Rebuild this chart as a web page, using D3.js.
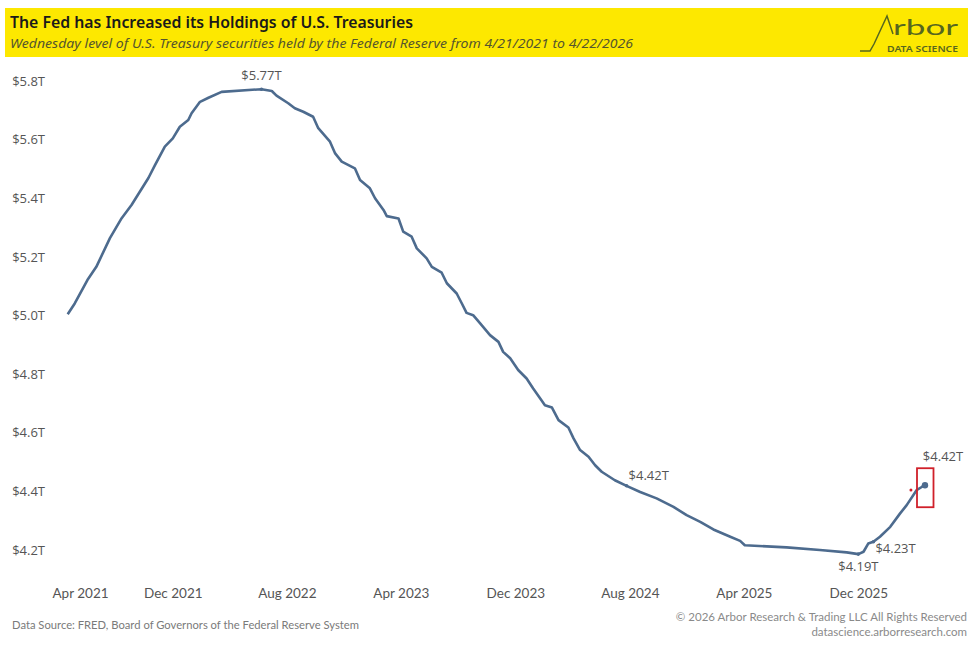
<!DOCTYPE html>
<html>
<head>
<meta charset="utf-8">
<script src="https://cdn.jsdelivr.net/npm/d3@7"></script>
<style>
  body { margin: 0; background: #fff; }
  svg { display: block; }
</style>
</head>
<body>
<svg width="974" height="649"></svg>
<script>
// даты (среда) и объём казначейских бумаг на балансе ФРС, трлн $
const dates = [
  "2021-04-21","2021-05-06","2021-06-02","2021-06-21","2021-07-20","2021-08-14",
  "2021-09-04","2021-10-10","2021-10-24","2021-11-14","2021-12-01","2021-12-16",
  "2022-01-03","2022-01-10","2022-01-28","2022-02-15","2022-03-15","2022-06-08",
  "2022-06-30","2022-07-10","2022-08-04","2022-08-18","2022-09-05","2022-09-26",
  "2022-10-07","2022-11-01","2022-11-12","2022-11-26","2022-12-24","2023-01-04",
  "2023-01-25","2023-02-05","2023-02-23","2023-03-02","2023-03-27","2023-04-06",
  "2023-04-24","2023-05-05","2023-05-26","2023-06-06","2023-06-27","2023-07-08",
  "2023-07-29","2023-08-09","2023-08-19","2023-09-02","2023-09-17","2023-10-08",
  "2023-10-26","2023-11-05","2023-11-20","2023-12-07","2023-12-25","2024-01-08",
  "2024-01-23","2024-02-02","2024-02-17","2024-03-02","2024-03-23","2024-04-03",
  "2024-04-17","2024-05-05","2024-05-19","2024-06-02","2024-06-30","2024-07-25",
  "2024-08-23","2024-09-27","2024-11-02","2024-11-30","2024-12-29","2025-01-26",
  "2025-03-03","2025-03-24","2025-04-03","2025-07-01","2025-09-10","2025-11-06",
  "2025-12-01","2025-12-12","2025-12-22","2026-01-02","2026-01-16","2026-02-07",
  "2026-02-28","2026-03-14","2026-04-04","2026-04-15","2026-04-22"
];
const holdings = [
  5.004, 5.041, 5.121, 5.166, 5.264, 5.332,
  5.377, 5.469, 5.513, 5.576, 5.604, 5.644,
  5.667, 5.690, 5.729, 5.743, 5.763, 5.772,
  5.766, 5.750, 5.724, 5.707, 5.695, 5.678,
  5.639, 5.593, 5.553, 5.525, 5.502, 5.462,
  5.434, 5.400, 5.360, 5.339, 5.331, 5.286,
  5.269, 5.229, 5.195, 5.166, 5.146, 5.110,
  5.075, 5.041, 5.009, 5.001, 4.973, 4.933,
  4.910, 4.876, 4.854, 4.814, 4.785, 4.751,
  4.717, 4.694, 4.686, 4.643, 4.618, 4.581,
  4.541, 4.518, 4.489, 4.467, 4.438, 4.419,
  4.398, 4.376, 4.347, 4.319, 4.296, 4.270,
  4.245, 4.231, 4.216, 4.209, 4.200, 4.192,
  4.186, 4.194, 4.222, 4.228, 4.245, 4.279,
  4.325, 4.353, 4.404, 4.415, 4.421
];

// подписи осей
const tickDates = ["2021-04-01","2021-12-01","2022-08-01","2023-04-01",
                   "2023-12-01","2024-08-01","2025-04-01","2025-12-01"];
const tickValuesY = [4.2, 4.4, 4.6, 4.8, 5.0, 5.2, 5.4, 5.6, 5.8];

// подписанные точки: дата, текст
const labelDates = ["2022-06-08", "2024-07-25", "2025-12-01", "2026-01-02", "2026-04-22"];
const labelTexts = ["$5.77T", "$4.42T", "$4.19T", "$4.23T", "$4.42T"];

const parseDate = d3.timeParse("%Y-%m-%d");

const svg = d3.select("svg");

const attr_area = {
    width: 974,
    height: 649,
    left: 67.7,
    right: 925,
    top: 81,
    bottom: 550
};

const LINE_COLOR = "#4d6b8e";
const TEXT_COLOR = "#555";
const LOGO_COLOR = "#56661f";

const data = dates.map((d, i) => ({date: parseDate(d), value: holdings[i]}));

const scX = d3.scaleTime()
    .domain([parseDate(dates[0]), parseDate(dates[dates.length - 1])])
    .range([attr_area.left, attr_area.right]);

const scY = d3.scaleLinear()
    .domain([4.2, 5.8])
    .range([attr_area.bottom, attr_area.top]);

// заголовок на жёлтой плашке
function drawHeader() {
    svg.append("rect")
        .attr("x", 5).attr("y", 8)
        .attr("width", 963).attr("height", 49)
        .attr("fill", "#fde800");

    svg.append("text")
        .attr("x", 10).attr("y", 28)
        .attr("textLength", 403).attr("lengthAdjust", "spacingAndGlyphs")
        .style("font-family", "'Noto Sans', sans-serif")
        .style("font-weight", 600)
        .style("font-size", "16px")
        .style("fill", "#1a1a1a")
        .text("The Fed has Increased its Holdings of U.S. Treasuries");

    svg.append("text")
        .attr("x", 10).attr("y", 48)
        .attr("textLength", 623).attr("lengthAdjust", "spacingAndGlyphs")
        .style("font-family", "'Noto Sans', sans-serif")
        .style("font-style", "italic")
        .style("font-size", "13px")
        .style("fill", "#55552e")
        .text("Wednesday level of U.S. Treasury securities held by the Federal Reserve from 4/21/2021 to 4/22/2026");

    // логотип
    const logo = svg.append("g").attr("class", "logo");
    logo.append("path")
        .attr("d", "M860,51 L870,51 L874,44 L887,16 L893,34")
        .attr("fill", "none")
        .attr("stroke", LOGO_COLOR)
        .attr("stroke-width", 1.5);
    logo.append("text")
        .attr("x", 893).attr("y", 35)
        .attr("textLength", 65).attr("lengthAdjust", "spacingAndGlyphs")
        .style("font-family", "Lato, sans-serif")
        .style("font-weight", 400)
        .style("font-size", "22px")
        .style("fill", LOGO_COLOR)
        .text("rbor");
    logo.append("text")
        .attr("x", 887).attr("y", 52)
        .attr("textLength", 71).attr("lengthAdjust", "spacingAndGlyphs")
        .style("font-family", "'Noto Sans', sans-serif")
        .style("font-weight", 600)
        .style("font-size", "9.5px")
        .style("fill", LOGO_COLOR)
        .text("DATA SCIENCE");
}

function drawAxes() {
    const axisX = d3.axisBottom(scX)
        .tickValues(tickDates.map(parseDate))
        .tickFormat(d3.timeFormat("%b %Y"))
        .tickSize(0)
        .tickPadding(6);

    const gX = svg.append("g")
        .attr("transform", `translate(0, 582)`)
        .call(axisX);
    gX.select(".domain").remove();
    gX.selectAll("text")
        .style("font-family", "Lato, sans-serif")
        .style("font-size", "13.5px")
        .style("fill", TEXT_COLOR);

    // первая подпись не выходит за левый край области
    gX.selectAll(".tick text").each(function(d) {
        const w = this.getComputedTextLength();
        const tx = scX(d);
        if (tx - w / 2 < 52) {
            d3.select(this).attr("x", 52 + w / 2 - tx);
        }
    });

    const axisY = d3.axisLeft(scY)
        .tickValues(tickValuesY)
        .tickFormat(d => "$" + d.toFixed(1) + "T")
        .tickSize(0)
        .tickPadding(0);

    const gY = svg.append("g")
        .attr("transform", `translate(45, 0)`)
        .call(axisY);
    gY.select(".domain").remove();
    gY.selectAll("text")
        .style("font-family", "'Open Sans', sans-serif")
        .style("font-size", "13px")
        .style("fill", TEXT_COLOR);
}

function drawLine() {
    const line = d3.line()
        .x(d => scX(d.date))
        .y(d => scY(d.value));

    svg.append("path")
        .datum(data)
        .attr("d", line)
        .attr("fill", "none")
        .attr("stroke", LINE_COLOR)
        .attr("stroke-width", 2.6)
        .attr("stroke-linejoin", "round");

    // точки с подписями
    const marks = labelDates.map((d, i) => {
        const p = data.find(e => +e.date === +parseDate(d));
        return {date: p.date, value: p.value, text: labelTexts[i]};
    });

    svg.selectAll("circle.mark")
        .data(marks)
        .enter()
        .append("circle")
        .attr("class", "mark")
        .attr("cx", d => scX(d.date))
        .attr("cy", d => scY(d.value))
        .attr("r", (d, i) => i === marks.length - 1 ? 3.2 : 1.8)
        .attr("fill", LINE_COLOR);

    // смещения подписей относительно точки
    const offsets = [
        {dx: 0, dy: -9, anchor: "middle"},
        {dx: 2, dy: -6, anchor: "start"},
        {dx: 0, dy: 17, anchor: "middle"},
        {dx: 2, dy: 11, anchor: "start"},
        {dx: 18, dy: -24, anchor: "middle"}
    ];

    svg.selectAll("text.mark")
        .data(marks)
        .enter()
        .append("text")
        .attr("class", "mark")
        .attr("x", (d, i) => scX(d.date) + offsets[i].dx)
        .attr("y", (d, i) => scY(d.value) + offsets[i].dy)
        .attr("text-anchor", (d, i) => offsets[i].anchor)
        .style("font-family", "'Open Sans', sans-serif")
        .style("font-size", "13px")
        .style("fill", TEXT_COLOR)
        .text(d => d.text);

    // красная рамка вокруг последнего значения и точка рядом
    const last = marks[marks.length - 1];
    svg.append("rect")
        .attr("x", scX(last.date) - 8)
        .attr("y", scY(last.value) - 17)
        .attr("width", 16.5)
        .attr("height", 39)
        .attr("fill", "none")
        .attr("stroke", "#d0202a")
        .attr("stroke-width", 1.8);

    svg.append("circle")
        .attr("cx", scX(parseDate("2026-03-23")))
        .attr("cy", scY(4.405))
        .attr("r", 1.5)
        .attr("fill", "#d0202a");
}

function drawFooter() {
    svg.append("text")
        .attr("x", 12).attr("y", 629)
        .attr("textLength", 347).attr("lengthAdjust", "spacingAndGlyphs")
        .style("font-family", "Lato, sans-serif")
        .style("font-size", "11.5px")
        .style("fill", "#7a7a7a")
        .text("Data Source: FRED, Board of Governors of the Federal Reserve System");

    svg.append("text")
        .attr("x", 967).attr("y", 621)
        .attr("text-anchor", "end")
        .style("font-family", "Lato, sans-serif")
        .style("font-size", "11.5px")
        .style("fill", "#8a8a8a")
        .text("© 2026 Arbor Research & Trading LLC All Rights Reserved");

    svg.append("text")
        .attr("x", 967).attr("y", 636)
        .attr("text-anchor", "end")
        .style("font-family", "Lato, sans-serif")
        .style("font-size", "11.5px")
        .style("fill", "#8a8a8a")
        .text("datascience.arborresearch.com");
}

drawHeader();
drawAxes();
drawLine();
drawFooter();
</script>
</body>
</html>
